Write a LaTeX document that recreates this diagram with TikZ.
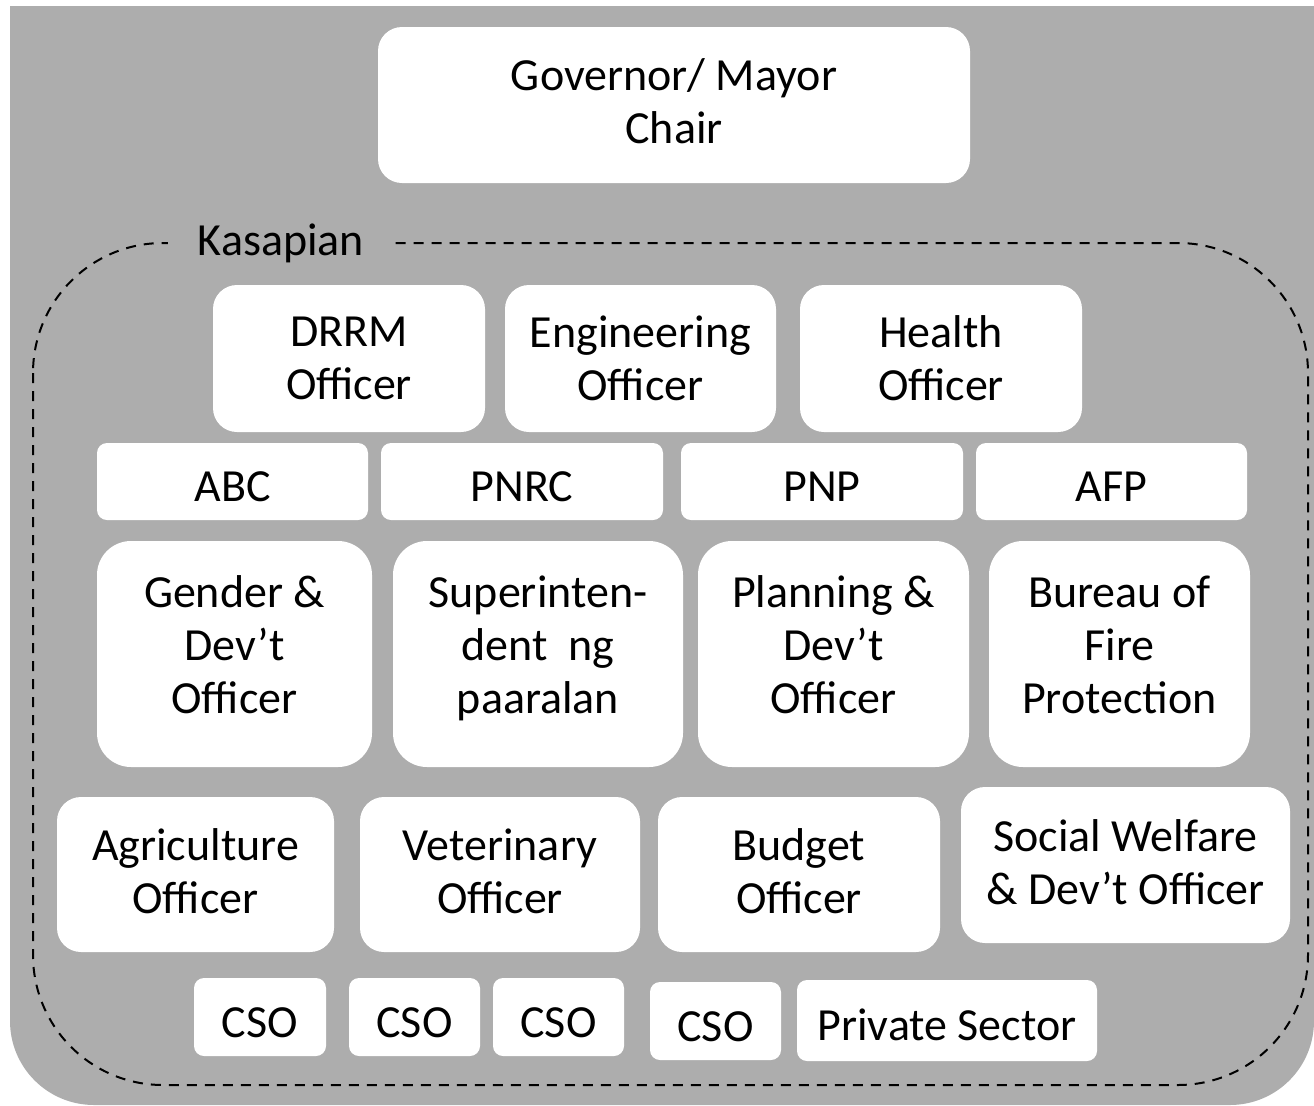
\documentclass[tikz,border=0pt]{standalone}
\usepackage{fontspec}
\setmainfont{Carlito}
\usepackage{tikz}
\usetikzlibrary{shapes.misc}
\usetikzlibrary{positioning}
\definecolor{bggray}{HTML}{ADADAD}

\tikzset{
  box/.style={fill=white, rounded corners=#1, align=center, inner sep=0pt,
    font=\fontsize{23}{26.5}\selectfont},
  box/.default=12pt,
  oneline/.style={text height=20pt, text depth=0pt},
  members/.style={draw=black, line width=1pt, dash pattern=on 5pt off 4pt,
    rounded corners=65pt}
}

\begin{document}
\begin{tikzpicture}[x=0.5pt,y=-0.5pt]
\useasboundingbox (0,0) rectangle (1314,1105);
\fill[bggray] (10,6) -- (1314,6) {[rounded corners=42pt] -- (1314,1105) -- (10,1105)} -- cycle;

\node[box, text depth=4pt, minimum width=296pt, minimum height=78pt] (chair) at (674,105) {Governor/ Mayor\\Chair};

\draw[members] (33,243) rectangle (1308,1085);
\node[fill=bggray, inner xsep=15pt, font=\fontsize{23}{26.5}\selectfont] (kasapian) at (281,243) {Kasapian};

\node[box, minimum width=136pt, minimum height=73.5pt] (drrm) at (349,358.5) {DRRM\\Officer};
\node[box, minimum width=135.5pt, minimum height=73.5pt] (eng) at (640.5,358.5) {Engineering\\Officer};
\node[box, minimum width=141pt, minimum height=73.5pt] (health) at (941,358.5) {Health\\Officer};

\node[box=5pt, oneline, minimum width=135.5pt, minimum height=38.5pt] (abc) at (232.5,481.5) {ABC};
\node[box=5pt, oneline, minimum width=141pt, minimum height=38.5pt] (pnrc) at (522,481.5) {PNRC};
\node[box=5pt, oneline, minimum width=141pt, minimum height=38.5pt] (pnp) at (822,481.5) {PNP};
\node[box=5pt, oneline, minimum width=135.5pt, minimum height=38.5pt] (afp) at (1111.5,481.5) {AFP};

\node[box=17pt, text depth=9pt, minimum width=137.5pt, minimum height=113pt] (gender) at (234.5,654) {Gender \&\\Dev’t\\Officer};
\node[box=17pt, text depth=9pt, minimum width=145pt, minimum height=113pt] (super) at (538,654) {Superinten-\\dent~ ng\\paaralan};
\node[box=17pt, text depth=9pt, minimum width=135.5pt, minimum height=113pt] (planning) at (833.5,654) {Planning \&\\Dev’t\\Officer};
\node[box=17pt, text depth=9pt, minimum width=130.5pt, minimum height=113pt] (bfp) at (1119.5,654) {Bureau of\\Fire\\Protection};

\node[box, text depth=3pt, minimum width=138.5pt, minimum height=77.5pt] (agri) at (195.5,874.5) {Agriculture\\Officer};
\node[box, text depth=3pt, minimum width=140pt, minimum height=77.5pt] (vet) at (500,874.5) {Veterinary\\Officer};
\node[box, text depth=3pt, minimum width=141pt, minimum height=77.5pt] (budget) at (799,874.5) {Budget\\Officer};
\node[box, text depth=3pt, minimum width=164.5pt, minimum height=78pt] (social) at (1125.5,865) {Social Welfare\\\& Dev’t Officer};

\node[box=5pt, oneline, minimum width=66pt, minimum height=39pt] (cso1) at (260,1017) {CSO};
\node[box=5pt, oneline, minimum width=65.5pt, minimum height=39pt] (cso2) at (414.5,1017) {CSO};
\node[box=5pt, oneline, minimum width=65.5pt, minimum height=39pt] (cso3) at (558.5,1017) {CSO};
\node[box=5pt, oneline, minimum width=65.5pt, minimum height=39pt] (cso4) at (715.5,1021) {CSO};
\node[box=5pt, oneline, minimum width=150pt, minimum height=40.5pt] (private) at (947,1020.5) {Private Sector};
\end{tikzpicture}
\end{document}
